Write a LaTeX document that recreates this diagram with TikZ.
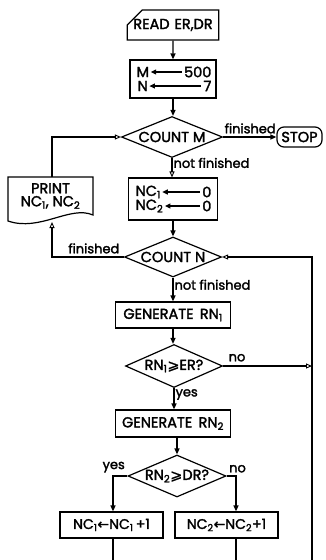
\documentclass[tikz,border=0pt]{standalone}
\usepackage{fontspec}
\setmainfont{Poppins}[FakeBold=2]
\newfontfamily\symf{DejaVu Sans}[FakeBold=1]
\usetikzlibrary{shapes.geometric,shapes.misc,arrows.meta}
\begin{document}
\begin{tikzpicture}[x=1pt,y=-1pt,
  font=\fontsize{14.5}{14}\selectfont,
  line width=1.2pt,
  box/.style={draw, rectangle, inner sep=0pt},
  dia/.style={draw, diamond, aspect=2.4, inner sep=0pt},
  lbl/.style={inner sep=1pt, font=\fontsize{13}{13}\selectfont},
  arr/.style={-{Triangle[length=6pt,width=5pt]}},
  oarr/.style={-{Triangle[open,length=6pt,width=5pt,line width=0.9pt]}},
  la/.style={line width=1.2pt,{Triangle[length=5.5pt,width=5pt]}-}]
\useasboundingbox (0,0) rectangle (326,560);

\node[draw, chamfered rectangle, chamfered rectangle corners=north west,
      chamfered rectangle xsep=9pt, chamfered rectangle ysep=9pt,
      inner sep=0pt, minimum width=89pt, minimum height=24pt] (read) at (173,25) {READ\,\,ER,DR};
\node[box, minimum width=86pt, minimum height=38pt] (init) at (173,79) {};
\node[anchor=west, inner sep=0pt] (m) at (136,72) {M};
\node[anchor=east, inner sep=0pt] (m5) at (212,72) {500};
\node[anchor=west, inner sep=0pt] (n) at (137,86) {N};
\node[anchor=east, inner sep=0pt] (n7) at (212,86) {7};
\draw[la] ([xshift=1pt]m.east) -- ([xshift=-1.5pt]m5.west);
\draw[la] ([xshift=1pt]n.east) -- ([xshift=-1.5pt]n7.west);

\node[dia, minimum width=101pt, minimum height=41pt] (cm) at (172,137) {COUNT M};
\node[draw, rounded corners=7pt, minimum width=45pt, minimum height=20pt, inner sep=0pt] (stop) at (299.5,137) {STOP};
\node[minimum width=85pt, minimum height=45pt, inner sep=0pt, align=center] (print) at (50.5,196)
  {PRINT\\[-1pt]NC\textsubscript{1}, NC\textsubscript{2}};
\draw (8,177) -- (93,177) -- (93,215) .. controls (70,205) and (40,232) .. (8,221) -- cycle;
\coordinate (ptop) at (52,177);
\coordinate (pbot) at (52,222);

\node[box, minimum width=89pt, minimum height=42pt] (nc0) at (173,199) {};
\node[anchor=west, inner sep=0pt] (a1) at (135,192) {NC\textsubscript{1}};
\node[anchor=east, inner sep=0pt] (z1) at (212,192) {0};
\node[anchor=west, inner sep=0pt] (a2) at (135,206) {NC\textsubscript{2}};
\node[anchor=east, inner sep=0pt] (z2) at (212,206) {0};
\draw[la] ([xshift=1pt]a1.east) -- ([xshift=-2pt]z1.west);
\draw[la] ([xshift=1pt]a2.east) -- ([xshift=-2pt]z2.west);

\node[dia, minimum width=97pt, minimum height=40pt] (cn) at (173,257) {COUNT N};
\node[box, minimum width=115pt, minimum height=26pt] (gen1) at (173,315) {GENERATE\ \,RN\textsubscript{1}};
\node[dia, minimum width=97pt, minimum height=43pt] (t1) at (174,366) {RN\textsubscript{1}{\symf ⩾}ER?};
\node[box, minimum width=115pt, minimum height=27pt] (gen2) at (173,423.5) {GENERATE\ \,RN\textsubscript{2}};
\node[dia, minimum width=98pt, minimum height=42pt] (t2) at (177,476) {RN\textsubscript{2}{\symf ⩾}DR?};
\node[box, minimum width=103pt, minimum height=26pt, font=\fontsize{14}{14}\selectfont] (inc1) at (111.5,525) {NC\textsubscript{1}{\symf ←}NC\textsubscript{1}\,+1};
\node[box, minimum width=103pt, minimum height=26pt, font=\fontsize{14}{14}\selectfont] (inc2) at (226.5,525) {NC\textsubscript{2}{\symf ←}NC\textsubscript{2}+1};

\coordinate (rb) at (312,560);
\coordinate (b1) at (113,560);
\coordinate (b2) at (236,560);

\draw[arr] (read) -- (init);
\draw[arr] (init) -- (init.south |- cm.north);
\draw[arr] (cm.east) -- (stop.west);
\node[lbl, anchor=south west] at ([xshift=0pt,yshift=2pt]cm.east) {finished};
\draw[oarr] (cm.south) -- node[lbl, right, pos=0.25] {not finished} (cm.south |- nc0.north);
\draw[arr] (nc0.south) -- (nc0.south |- cn.north);
\draw[oarr] (cn.west) -- (cn.west -| pbot) -- (pbot);
\node[lbl, anchor=south east] at ([xshift=-3pt,yshift=2pt]cn.west) {finished};
\draw[oarr] (ptop) -- (ptop |- cm.west) -- (cm.west);
\draw[arr] (cn.south) -- node[lbl, right, pos=0.3] {not finished} (cn.south |- gen1.north);
\draw[arr] (gen1.south) -- (gen1.south |- t1.north);
\draw[oarr] (t1.east) -- (t1.east -| rb);
\node[lbl, anchor=south west] at ([xshift=4pt,yshift=3pt]t1.east) {no};
\draw[arr] (t1.south) -- node[lbl, right, pos=0.3] {yes} (t1.south |- gen2.north);
\draw[arr] (gen2.south -| t2.north) -- (t2.north);
\draw[arr] (t2.west) -- (t2.west -| b1) -- (b1 |- inc1.north);
\node[lbl, anchor=south east] at ([xshift=-1pt,yshift=2pt]t2.west) {yes};
\draw[arr] (t2.east) -- (t2.east -| b2) -- (b2 |- inc2.north);
\node[lbl, anchor=south west] at ([xshift=1pt,yshift=2pt]t2.east) {no};
\draw (b1 |- inc1.south) -- (b1);
\draw (b2 |- inc2.south) -- (b2);
\draw[oarr] (rb) -- (rb |- cn.east) -- (cn.east);
\end{tikzpicture}
\end{document}
